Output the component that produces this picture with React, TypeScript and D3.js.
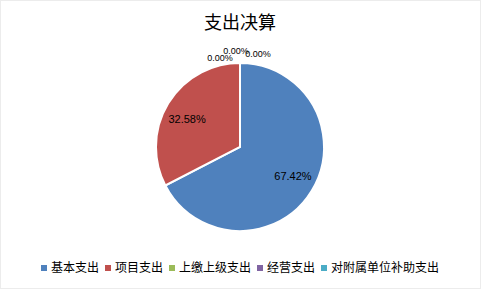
import React from "react";
import * as d3 from "d3";

const categories = ["基本支出", "项目支出", "上缴上级支出", "经营支出", "对附属单位补助支出"];
const values = [67.42, 32.58, 0, 0, 0];
const colors = ["#4F81BD", "#C0504D", "#9BBB59", "#8064A2", "#4BACC6"];
const title = "支出决算";

const W = 482;
const H = 290;
const cx = 240;
const cy = 147;
const R = 84;
const labelR = 62;
// fine placement of the labels
const labelDx = [0, 0, -20, -4, 18];
const labelDy = [-3, 4, 5, 12, 9];

const cjk = "'Noto Sans CJK SC', 'Microsoft YaHei', sans-serif";
const latin = "'Liberation Sans', Arial, sans-serif";

export default function App() {
  const pie = d3
    .pie<number>()
    .sort(null)
    .value((d) => d)
    .startAngle(0)
    .endAngle(2 * Math.PI);
  const arcs = pie(values);
  const arc = d3.arc<d3.PieArcDatum<number>>().innerRadius(0).outerRadius(R);
  const labelArc = d3.arc<d3.PieArcDatum<number>>().innerRadius(labelR).outerRadius(labelR);

  // legend layout
  const legendY = 268;
  const fontSize = 12;
  const sq = 6;
  const itemWidths = categories.map((c) => sq + 4 + c.length * fontSize + 6);
  const total = itemWidths.reduce((a, b) => a + b, 0) - 6;
  let lx = W / 2 - total / 2 - 1;
  const legendItems = categories.map((c, i) => {
    const x = lx;
    lx += itemWidths[i];
    return { c, x, i };
  });

  return (
    <svg
      width={W}
      height={H}
      style={{ position: "absolute", left: 0, top: 0, background: "#fff" }}
    >
      <rect x={0.5} y={0.5} width={W - 2} height={H - 2} fill="#fff" stroke="#ececec" />
      <text
        x={cx}
        y={29}
        textAnchor="middle"
        fontFamily={cjk}
        fontSize={18}
        fill="#000"
      >
        {title}
      </text>
      <g transform={`translate(${cx},${cy})`}>
        {arcs.map((a, i) =>
          a.value > 0 ? (
            <path key={i} d={arc(a) || ""} fill={colors[i]} stroke="#fff" strokeWidth={2} />
          ) : null
        )}
        {arcs.map((a, i) => {
          const txt = a.value.toFixed(2) + "%";
          if (a.value > 0) {
            const [x, y] = labelArc.centroid(a);
            return (
              <text
                key={i}
                x={x + labelDx[i]}
                y={y + labelDy[i]}
                dy="0.35em"
                textAnchor="middle"
                fontFamily={latin}
                fontSize={11}
                fill="#000"
              >
                {txt}
              </text>
            );
          }
          const x = R * Math.sin(a.startAngle) + labelDx[i];
          const y = -R * Math.cos(a.startAngle) - labelDy[i];
          return (
            <text
              key={i}
              x={x}
              y={y}
              dy="0.35em"
              textAnchor="middle"
              fontFamily={latin}
              fontSize={9}
              fill="#000"
            >
              {txt}
            </text>
          );
        })}
      </g>
      <g>
        {legendItems.map(({ c, x, i }) => (
          <g key={i}>
            <rect x={x} y={legendY - sq / 2} width={sq} height={sq} fill={colors[i]} />
            <text
              x={x + sq + 4}
              y={legendY}
              dy="0.36em"
              fontFamily={cjk}
              fontSize={fontSize}
              fill="#000"
            >
              {c}
            </text>
          </g>
        ))}
      </g>
    </svg>
  );
}
